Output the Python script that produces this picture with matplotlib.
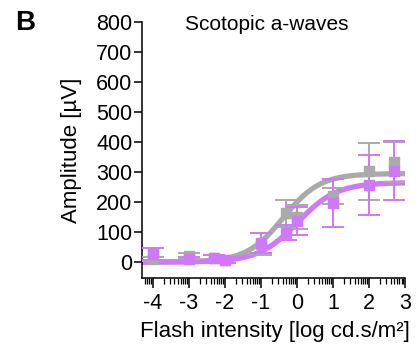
import numpy as np
import matplotlib
matplotlib.use("Agg")
import matplotlib.pyplot as plt

plt.rcParams['font.family'] = ['Liberation Sans', 'DejaVu Sans']

# Data
x_vals = [-4, -3, -2.3, -2, -1, -0.3, 0, 1, 2, 2.7]
gray_mean = [10, 20, 15, 8, 60, 163, 150, 220, 303, 333]
gray_err = [8, 10, 10, 12, 38, 45, 40, 27, 95, 67]
purple_mean = [27, 10, 12, 8, 63, 98, 137, 197, 257, 305]
purple_err = [20, 8, 10, 10, 33, 25, 46, 80, 100, 97]

# Sigmoidal fit parameters (bottom, top, logEC50, hill)
gray_fit = (0, 295, -0.38, 0.85)
purple_fit = (0, 265, 0.02, 0.80)

xticks = [-4, -3, -2, -1, 0, 1, 2, 3]
yticks = [0, 100, 200, 300, 400, 500, 600, 700, 800]

GRAY = '#AAAAAA'
PURPLE = '#CF78FA'

W, H = 419, 351
fig = plt.figure(figsize=(W / 100, H / 100), dpi=100)
ax = fig.add_axes([142 / W, 1 - 278 / H, (405 - 142) / W, (278 - 22) / H])


def sig(x, p):
    b, t, x0, h = p
    return b + (t - b) / (1 + 10 ** ((x0 - x) * h))


xs = np.linspace(-4.3, 3, 300)
for mean, err, fit, col in [(gray_mean, gray_err, gray_fit, GRAY),
                            (purple_mean, purple_err, purple_fit, PURPLE)]:
    ax.plot(xs, sig(xs, fit), color=col, lw=3.8, solid_capstyle='butt', zorder=2)
    ax.errorbar(x_vals, mean, yerr=err, fmt='s', color=col, ms=7.5,
                elinewidth=1.4, capsize=8, capthick=1.4, zorder=3)

ax.set_xlim(-4.3, 3)
ax.set_ylim(-53, 800)
ax.set_xticks(xticks)
ax.set_xticklabels([str(v) for v in xticks])
ax.set_yticks(yticks)
minor = [d + np.log10(k) for d in range(-5, 3) for k in range(2, 10)]
minor = [m for m in minor if -4.3 <= m <= 3]
ax.set_xticks(minor, minor=True)

for s in ['top', 'right']:
    ax.spines[s].set_visible(False)
for s in ['left', 'bottom']:
    ax.spines[s].set_linewidth(1.1)
ax.tick_params(axis='both', which='major', direction='out', length=6, width=1.1,
               labelsize=15.5, colors='black', pad=1)
ax.tick_params(axis='x', which='major', length=7, pad=4)
ax.tick_params(axis='x', which='minor', direction='out', length=4, width=0.9)

fig.text(72 / W, 1 - 150 / H, 'Amplitude [µV]', rotation=90, ha='center', va='center', fontsize=16)
fig.text(275 / W, 1 - 331 / H, 'Flash intensity [log cd.s/m²]', ha='center', va='center', fontsize=16)
fig.text(267 / W, 1 - 24 / H, 'Scotopic a-waves', ha='center', va='center', fontsize=15)
fig.text(25 / W, 1 - 23 / H, 'B', ha='center', va='center', fontsize=20, fontweight='bold')

fig.savefig('out.png', dpi=100)
